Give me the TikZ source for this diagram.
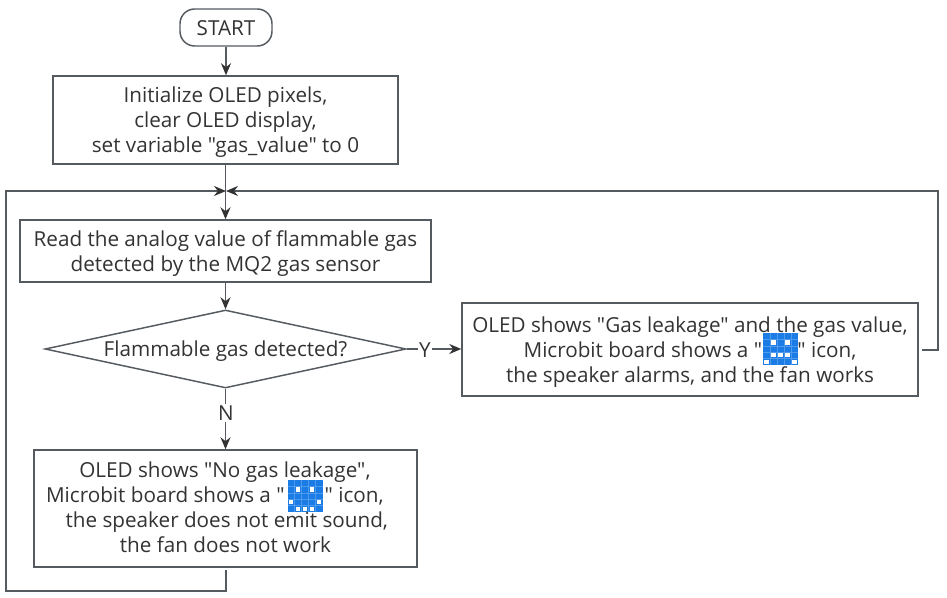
\documentclass[tikz,border=0pt]{standalone}
\usepackage{fontspec}
\newfontfamily\diagfont{Open Sans}
\usetikzlibrary{arrows.meta,shapes.geometric}
\definecolor{edge}{HTML}{555A60}
\definecolor{tip}{HTML}{333333}
\definecolor{ink}{HTML}{333333}
\definecolor{mbblue}{HTML}{1B7CE6}
\definecolor{mbgrid}{HTML}{4E9BEE}
\newcommand{\nudge}[1]{\raisebox{-1.8pt}[\height][\depth]{#1}}
\tikzset{
  boxnode/.style={draw=edge,line width=1.1pt,fill=white,text=ink,align=center,font=\diagfont\fontsize{15.5pt}{18.75pt}\selectfont,inner sep=0pt,anchor=center},
  conn/.style={draw=edge,line width=1.1pt},
  arr/.style={conn,-{Stealth[length=9pt,width=7.5pt,color=tip]}},
  lab/.style={text=ink,font=\diagfont\fontsize{15.5pt}{18.75pt}\selectfont,fill=white,inner sep=1pt}
}
\newcommand{\mbicon}[3]{%
  \begin{scope}[shift={(#1,#2)}]
    \fill[mbblue] (0,0) rectangle (35,32);
    \foreach \k in {1,2,3,4}{
      \draw[mbgrid,line width=0.3pt] (7*\k,0) -- (7*\k,32);
      \draw[mbgrid,line width=0.3pt] (0,6.4*\k) -- (35,6.4*\k);
    }
    \foreach \c/\r in {#3}{
      \fill[white] (7*\c+1.2,6.4*\r+1.1) rectangle (7*\c+5.8,6.4*\r+5.3);
    }
  \end{scope}}
\begin{document}
\begin{tikzpicture}[x=0.75pt,y=-0.75pt]
\useasboundingbox (0,0) rectangle (947,598);
\node[boxnode,rounded corners=11pt,minimum width=69pt,minimum height=27.75pt] (start) at (226,27.5) {\raisebox{-0.8pt}[\height][\depth]{START}};
\node[boxnode,minimum width=258.75pt,minimum height=66pt] (init) at (225.5,120) {\nudge{\parbox{250pt}{\centering Initialize OLED pixels,\\clear OLED display,\\set variable "gas\_value" to 0}}};
\node[boxnode,minimum width=308.25pt,minimum height=46.5pt] (read) at (225.5,251) {\nudge{\parbox{300pt}{\centering Read the analog value of flammable gas\\detected by the MQ2 gas sensor}}};
\node[boxnode,shape=diamond,aspect=4.63,minimum width=270.75pt,minimum height=58.5pt] (dec) at (225.5,349) {\nudge{Flammable gas detected?}};
\node[boxnode,minimum width=342pt,minimum height=69.75pt] (gas) at (690,349.5) {\nudge{\parbox{335pt}{\centering OLED shows "Gas leakage" and the gas value,\\Microbit board shows a "\hspace{26.5pt}" icon,\\the speaker alarms, and the fan works}}};
\node[boxnode,minimum width=287.25pt,minimum height=87.75pt] (nogas) at (225.5,508.5) {\raisebox{0.8pt}[\height][\depth]{\parbox{280pt}{\centering \hspace{-0.8pt}OLED shows "No gas leakage",\\\hspace{-16pt}Microbit board shows a "\hspace{30pt}" icon,\\\hspace{2pt}the speaker does not emit sound,\\the fan does not work}}};
\coordinate (j) at (226,191);
\coordinate (gasout) at (922,350);
\coordinate (r1) at (938,350);
\coordinate (r2) at (938,191);
\coordinate (nogasout) at (226,570);
\coordinate (l1) at (226,591);
\coordinate (l2) at (6,591);
\coordinate (l3) at (6,191);
\draw[arr] (start.south) -- (start.south |- init.north);
\draw[arr] (init.south) -- (init.south |- read.north);
\draw[arr] (read.south) -- (read.south |- dec.north);
\draw[arr] (dec.east) -- (gas.west |- dec.east);
\draw[arr] (dec.south) -- (dec.south |- nogas.north);
\draw[arr] (gasout) -- (r1) -- (r2) -- (j);
\draw[arr] (nogasout) -- (l1) -- (l2) -- (l3) -- (j);
\node[lab] (y) at (425,350) {Y};
\node[lab] (n) at (226,413) {N};
\mbicon{763}{333}{1/1,3/1,1/3,2/3,3/3,0/4,4/4}
\mbicon{287.5}{480}{1/1,3/1,0/3,4/3,1/4,2/4,3/4}
\end{tikzpicture}
\end{document}
